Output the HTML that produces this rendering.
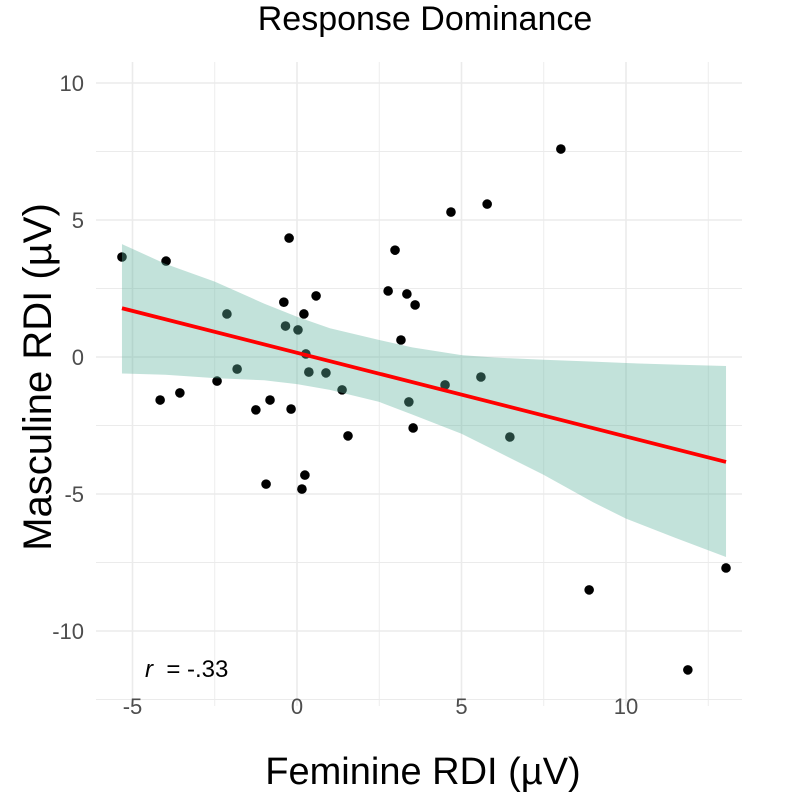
<!DOCTYPE html>
<html><head><meta charset="utf-8"><style>
body{margin:0;background:#fff;}
svg{display:block;font-family:"Liberation Sans",Arial,sans-serif;}
</style></head><body>
<svg id="chart" width="796" height="792" viewBox="0 0 796 792">
<text x="425" y="30" font-size="34" text-anchor="middle" fill="#000">Response Dominance</text>
<g id="grid"></g>
<g id="ticks"></g>
<g id="points"></g>
<g id="fit"></g>
<text x="423" y="784" font-size="38" text-anchor="middle" fill="#000">Feminine RDI (µV)</text>
<text transform="translate(51,377) rotate(-90)" font-size="40" text-anchor="middle" fill="#000">Masculine RDI (µV)</text>
<text x="145" y="677" font-size="24" fill="#000" xml:space="preserve"><tspan font-style="italic">r</tspan>  = -.33</text>
</svg>
<script>
const xs=[-5.32,-3.98,-4.16,-3.56,-2.43,-2.13,-1.82,-1.25,-0.94,-0.82,-0.4,-0.35,-0.24,-0.18,0.03,0.15,0.21,0.27,0.24,0.36,0.58,0.88,1.37,1.55,2.77,2.98,3.16,3.34,3.4,3.59,3.53,4.5,4.68,5.59,5.78,6.47,8.02,8.88,11.88,13.04];
const ys=[3.65,3.5,-1.57,-1.31,-0.88,1.57,-0.44,-1.93,-4.64,-1.57,2.0,1.13,4.34,-1.9,0.99,-4.82,1.57,0.11,-4.31,-0.55,2.23,-0.58,-1.2,-2.88,2.41,3.9,0.62,2.3,-1.64,1.9,-2.59,-1.02,5.29,-0.73,5.58,-2.92,7.59,-8.5,-11.42,-7.7];
const bandX=[-5.32,-4,-2.5,-1,0,1,2.5,3.5,5,6,7.5,9,10,11.5,13.04];
const bandUpper=[4.12,3.4,2.75,1.95,1.47,1.05,0.62,0.35,0.07,-0.02,-0.1,-0.17,-0.22,-0.28,-0.33];
const bandLower=[-0.6,-0.65,-0.77,-0.85,-0.99,-1.2,-1.64,-2.1,-2.8,-3.4,-4.3,-5.3,-5.9,-6.6,-7.3];
const fitX=[-5.32,13.04];
const fitY=[1.78,-3.83];
const xTicks=[-5,0,5,10];
const yTicks=[10,5,0,-5,-10];
const xTickLabels=["-5","0","5","10"];
const yTickLabels=["10","5","0","-5","-10"];

const NS="http://www.w3.org/2000/svg";
const X=v=>297+v*32.9, Y=v=>357-v*27.4;
const L=96,R=742,T=62,B=706;
function mk(t,a,p){const e=document.createElementNS(NS,t);for(const k in a)e.setAttribute(k,a[k]);p.appendChild(e);return e;}
const grid=document.getElementById('grid'),ticks=document.getElementById('ticks');
for(let v=-7.5;v<=12.5;v+=2.5){const x=X(v);if(x<L||x>R)continue;const major=v%5===0;
 const ln=mk('line',{x1:x,x2:x,y1:T,y2:B,stroke:'#ebebeb','stroke-width':major?1.6:0.9},grid);
 
 }
for(let v=-12.5;v<=12.5;v+=2.5){const y=Y(v);if(y<T||y>B)continue;const major=v%5===0;
 const ln=mk('line',{x1:L,x2:R,y1:y,y2:y,stroke:'#ebebeb','stroke-width':major?1.6:0.9},grid);
 
 }
xTicks.forEach((v,i)=>{const t=mk('text',{x:X(v),y:714,'font-size':22,'text-anchor':'middle',fill:'#4d4d4d'},ticks);t.textContent=xTickLabels[i];
 
 });
yTicks.forEach((v,i)=>{const t=mk('text',{x:84,y:Y(v)+8,'font-size':22,'text-anchor':'end',fill:'#4d4d4d'},ticks);t.textContent=yTickLabels[i];
 
 });
const pts=document.getElementById('points');
xs.forEach((v,i)=>{const c=mk('circle',{cx:X(v),cy:Y(ys[i]),r:4.8,fill:'#000'},pts);
 
 });
const fit=document.getElementById('fit');
let d='M'+bandX.map((v,i)=>X(v)+','+Y(bandUpper[i])).join(' L');
for(let i=bandX.length-1;i>=0;i--)d+=' L'+X(bandX[i])+','+Y(bandLower[i]);
const band=mk('path',{d:d+'Z',fill:'#5fb39f','fill-opacity':0.38},fit);


const fl=mk('line',{x1:X(fitX[0]),y1:Y(fitY[0]),x2:X(fitX[1]),y2:Y(fitY[1]),stroke:'#ff0000','stroke-width':3.8},fit);


</script>
</body></html>
